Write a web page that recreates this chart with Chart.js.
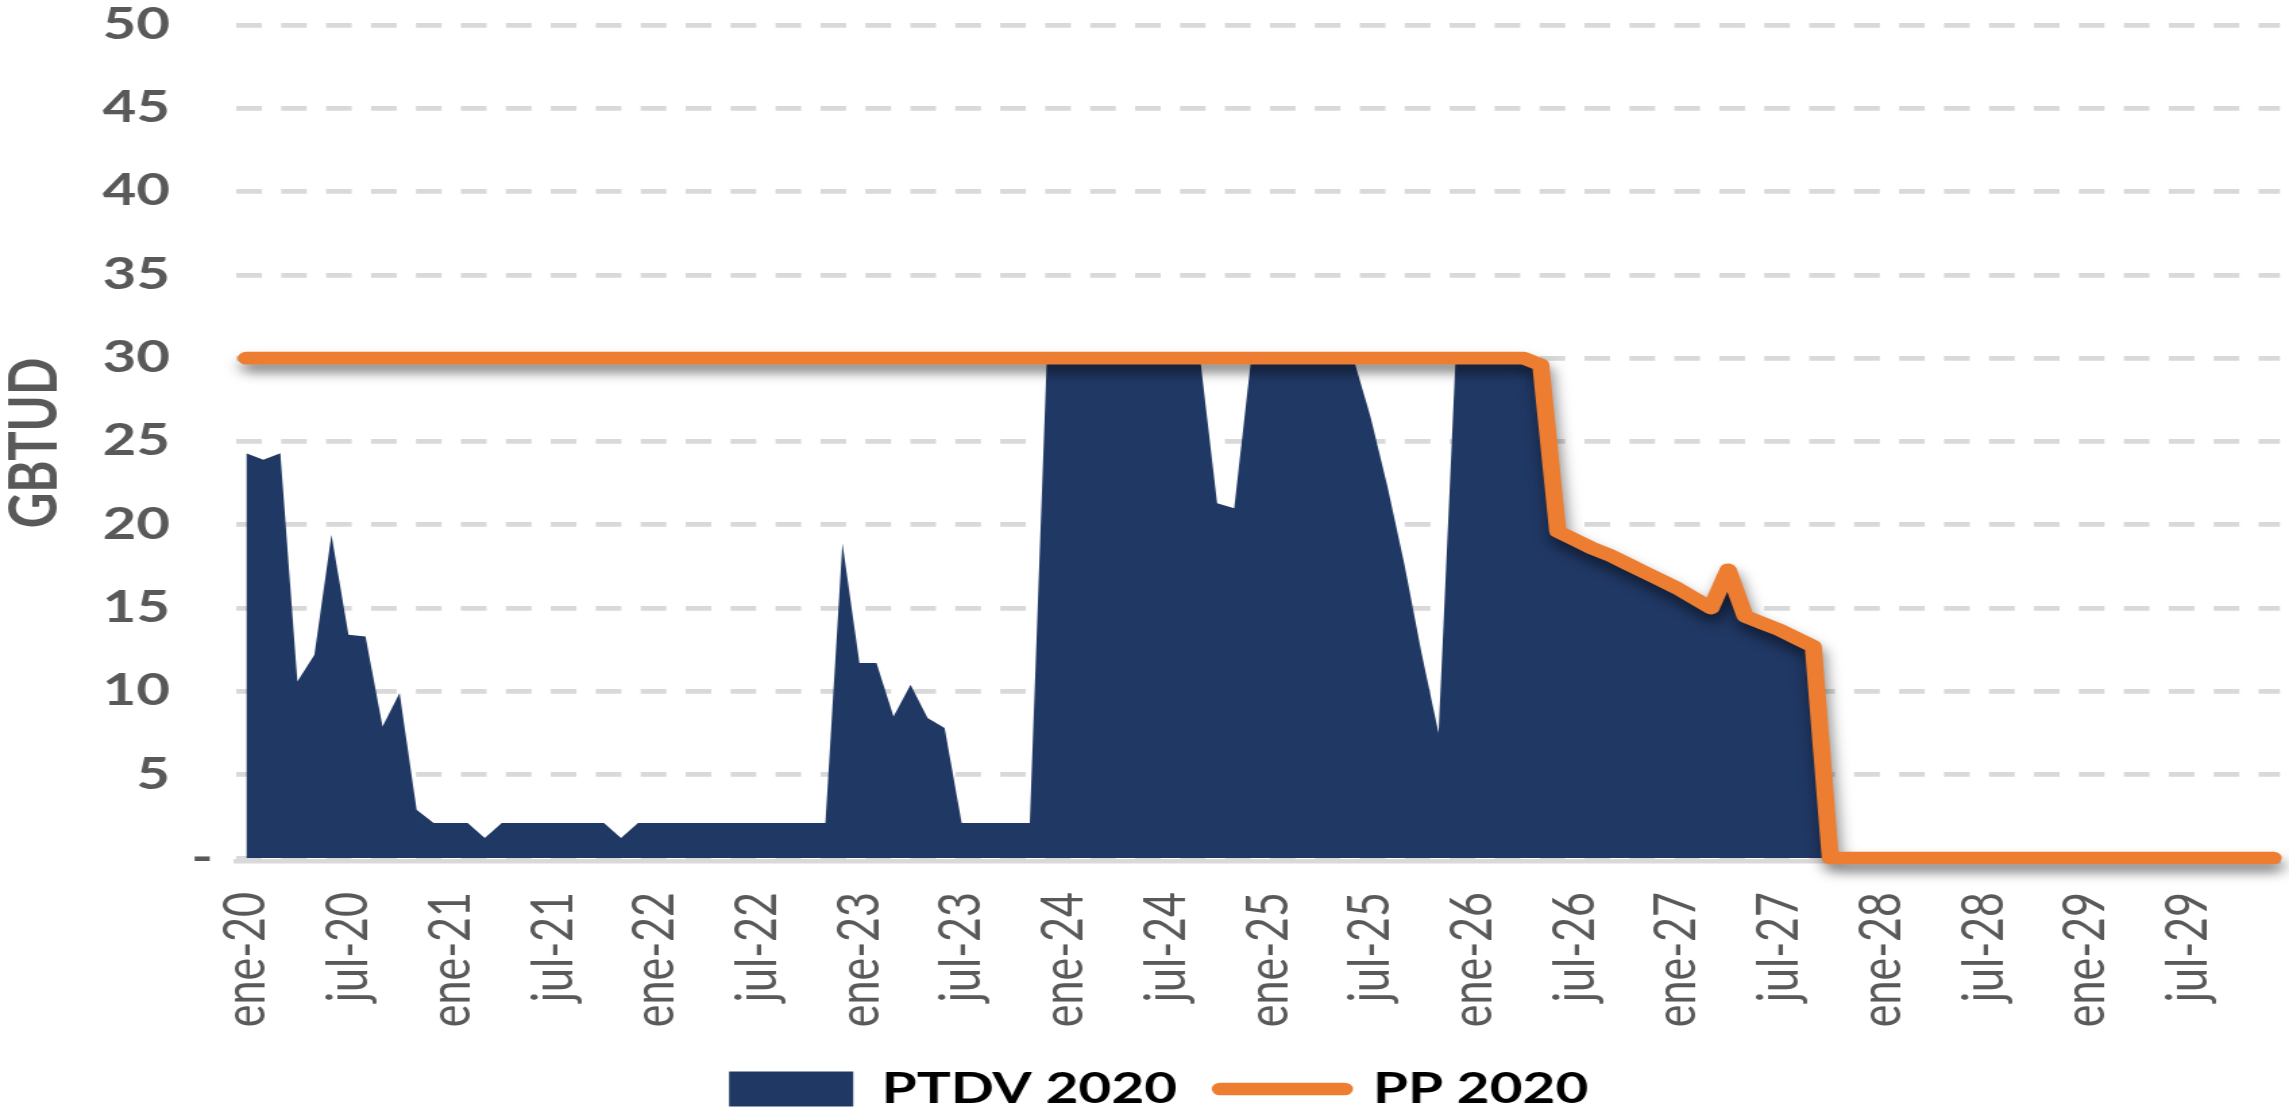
<!DOCTYPE html>
<html lang="es">
<head>
<meta charset="utf-8">
<title>PTDV 2020 / PP 2020</title>
<script src="https://cdn.jsdelivr.net/npm/chart.js@4.4.1/dist/chart.umd.min.js"></script>
<style>
  html, body { margin: 0; padding: 0; background: #ffffff; overflow: hidden; }
  /* The chart is laid out on a narrower canvas and widened horizontally. */
  #stage { width: 1696px; height: 1110px; transform: scaleX(1.349646); transform-origin: 0 0; }
  canvas { display: block; }
</style>
</head>
<body>
<div id="stage"><canvas id="chart" width="1696" height="1110"></canvas></div>
<script>
// Monthly series, ene-20 (index 0) to dic-29 (index 119), GBTUD
const ptdv2020 = [
  24.3, 23.9, 24.3, 10.6, 12.2, 19.4, 13.4, 13.3, 7.9, 9.9,
  2.9, 2.1, 2.1, 2.1, 1.2, 2.1, 2.1, 2.1, 2.1, 2.1,
  2.1, 2.1, 1.2, 2.1, 2.1, 2.1, 2.1, 2.1, 2.1, 2.1,
  2.1, 2.1, 2.1, 2.1, 2.1, 18.9, 11.7, 11.7, 8.5, 10.4,
  8.4, 7.8, 2.1, 2.1, 2.1, 2.1, 2.1, 30, 30, 30,
  30, 30, 30, 30, 30, 30, 30, 21.3, 21.0, 30,
  30, 30, 30, 30, 30, 30, 26.5, 22.3, 17.6, 12.3,
  7.5, 30, 30, 30, 30, 30, 29.6, 19.6, 19.1, 18.6,
  18.2, 17.7, 17.2, 16.7, 16.2, 15.6, 15.0, 17.3, 14.5, 14.1,
  13.7, 13.2, 12.7, 0, 0, 0, 0, 0, 0, 0,
  0, 0, 0, 0, 0, 0, 0, 0, 0, 0,
  0, 0, 0, 0, 0, 0, 0, 0, 0, 0
];

const pp2020 = [
  30, 30, 30, 30, 30, 30, 30, 30, 30, 30,
  30, 30, 30, 30, 30, 30, 30, 30, 30, 30,
  30, 30, 30, 30, 30, 30, 30, 30, 30, 30,
  30, 30, 30, 30, 30, 30, 30, 30, 30, 30,
  30, 30, 30, 30, 30, 30, 30, 30, 30, 30,
  30, 30, 30, 30, 30, 30, 30, 30, 30, 30,
  30, 30, 30, 30, 30, 30, 30, 30, 30, 30,
  30, 30, 30, 30, 30, 30, 29.6, 19.6, 19.1, 18.6,
  18.2, 17.7, 17.2, 16.7, 16.2, 15.6, 15.0, 17.3, 14.5, 14.1,
  13.7, 13.2, 12.7, 0, 0, 0, 0, 0, 0, 0,
  0, 0, 0, 0, 0, 0, 0, 0, 0, 0,
  0, 0, 0, 0, 0, 0, 0, 0, 0, 0
];

// Axis labels: one every six months along x, every 5 GBTUD along y
const xTickLabels = [
  'ene-20', 'jul-20', 'ene-21', 'jul-21', 'ene-22', 'jul-22', 'ene-23', 'jul-23',
  'ene-24', 'jul-24', 'ene-25', 'jul-25', 'ene-26', 'jul-26', 'ene-27', 'jul-27',
  'ene-28', 'jul-28', 'ene-29', 'jul-29'
];
const xTickStep = 6;
const yTickValues = [0, 5, 10, 15, 20, 25, 30, 35, 40, 45, 50];

const seriesNames = ['PTDV 2020', 'PP 2020'];

const NAVY = '#203864';
const ORANGE = '#ED7D31';
const GRID = '#D9D9D9';
const TEXT = '#595959';
const PP_WIDTH = 12.7;

const toPoints = (values) => values.map((v, i) => ({ x: i, y: v }));

// Accounting-style labels: numbers keep a trailing pad, zero shows a dash
const yLabel = (value) => (value === 0 ? '-' : String(value) + '\u2002 ');

// Soft drop shadow under the PP line
const lineShadow = {
  id: 'lineShadow',
  beforeDatasetDraw(chart, args) {
    if (args.index !== 1) return;
    const ctx = chart.ctx;
    ctx.save();
    ctx.shadowColor = 'rgba(0, 0, 0, 0.5)';
    ctx.shadowBlur = 12;
    ctx.shadowOffsetX = 2;
    ctx.shadowOffsetY = 8;
  },
  afterDatasetDraw(chart, args) {
    if (args.index !== 1) return;
    chart.ctx.restore();
  }
};

new Chart(document.getElementById('chart'), {
  type: 'line',
  data: {
    datasets: [
      {
        label: seriesNames[0],
        data: toPoints(ptdv2020),
        fill: 'origin',
        backgroundColor: NAVY,
        borderColor: 'rgba(0,0,0,0)',
        borderWidth: 0,
        pointRadius: 0,
        tension: 0,
        order: 1
      },
      {
        label: seriesNames[1],
        data: toPoints(pp2020),
        fill: false,
        borderColor: ORANGE,
        backgroundColor: ORANGE,
        borderWidth: PP_WIDTH,
        borderCapStyle: 'round',
        borderJoinStyle: 'round',
        pointRadius: 0,
        tension: 0,
        clip: false,
        order: 0
      }
    ]
  },
  options: {
    responsive: false,
    maintainAspectRatio: false,
    devicePixelRatio: 1,
    animation: false,
    events: [],
    layout: { autoPadding: false, padding: { left: 27.7, right: 6.7, top: 25, bottom: -10 } },
    scales: {
      x: {
        type: 'linear',
        min: -0.6,
        max: 119.4,
        afterBuildTicks: (scale) => {
          scale.ticks = xTickLabels.map((_, i) => ({ value: i * xTickStep }));
        },
        afterFit: (scale) => {
          scale.height = 175;
          scale.paddingLeft = 0;
          scale.paddingRight = 0;
        },
        ticks: {
          autoSkip: false,
          minRotation: 90,
          maxRotation: 90,
          padding: 31,
          color: TEXT,
          font: { family: 'Lato', size: 43, weight: 'normal' },
          callback: (value, index) => xTickLabels[index]
        },
        grid: { display: false, drawTicks: false },
        border: { display: true, color: GRID, width: 4.6 }
      },
      y: {
        min: -0.18,
        max: 50,
        afterBuildTicks: (scale) => {
          scale.ticks = yTickValues.map((v) => ({ value: v }));
        },
        afterFit: (scale) => {
          scale.width = 147.2;
          scale.paddingTop = 0;
          scale.paddingBottom = 0;
        },
        ticks: {
          padding: 17,
          color: TEXT,
          font: { family: 'Lato', size: 43, weight: 'bold', lineHeight: 1 },
          callback: (value) => yLabel(value)
        },
        grid: { color: GRID, lineWidth: 4.7, drawTicks: false },
        border: { display: false, dash: [19, 14.3] },
        title: {
          display: true,
          text: 'GBTUD',
          color: TEXT,
          font: { family: 'Lato', size: 49, weight: 'bold' },
          padding: { top: -30.7, bottom: 0 }
        }
      }
    },
    plugins: {
      tooltip: { enabled: false },
      legend: {
        display: true,
        position: 'bottom',
        labels: {
          usePointStyle: true,
          pointStyleWidth: 92,
          boxWidth: 92,
          boxHeight: 35,
          padding: 32,
          color: TEXT,
          font: { family: 'Lato', size: 42, weight: 'bold' },
          generateLabels: () => [
            { text: seriesNames[0], datasetIndex: 0, hidden: false, pointStyle: 'rect',
              fillStyle: NAVY, strokeStyle: NAVY, lineWidth: 0 },
            { text: seriesNames[1], datasetIndex: 1, hidden: false, pointStyle: 'line',
              fillStyle: ORANGE, strokeStyle: ORANGE, lineWidth: PP_WIDTH, lineCap: 'round' }
          ]
        }
      }
    }
  },
  plugins: [lineShadow]
});
</script>
</body>
</html>
